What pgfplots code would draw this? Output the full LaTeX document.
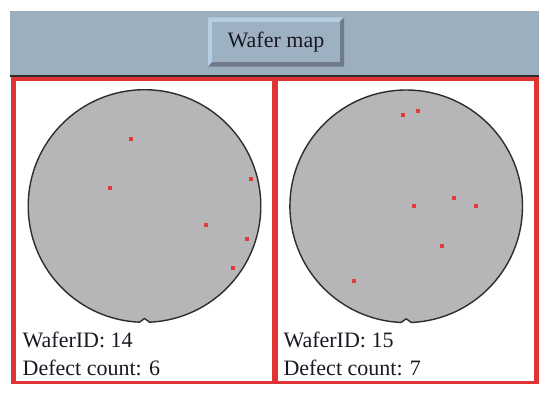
\documentclass[border=0pt]{standalone}
\usepackage{pgfplots}
\pgfplotsset{compat=1.18}
\usepackage{fontspec}
\setmainfont{Liberation Serif}
\definecolor{bandcol}{RGB}{156,175,190}
\definecolor{btnlight}{RGB}{182,206,228}
\definecolor{btndark}{RGB}{112,122,137}
\definecolor{btnface}{RGB}{157,177,194}
\definecolor{framered}{RGB}{222,52,52}
\definecolor{wafergray}{RGB}{182,182,185}
\definecolor{waferline}{RGB}{45,45,45}
\definecolor{dotred}{RGB}{224,58,58}
\definecolor{txt}{RGB}{25,25,35}

\pgfplotstableread{
x y
-13.5 67.3
-34.5 18.7
106.2 27.3
61.5 -18.7
101.8 -32.7
88.5 -61.3
}\waferA
\pgfplotstableread{
x y
-3.2 91.3
11.8 95.6
47.8 8.6
7.1 1.0
69.8 1.0
35.5 -39.4
-52.5 -74.4
}\waferB

\pgfplotsset{wafer/.style={
  scale only axis, width=232.6bp, height=232.6bp,
  xmin=-116.3, xmax=116.3, ymin=-116.3, ymax=116.3,
  axis lines=none, clip=false, anchor=center}}

\newcommand{\waferoutline}{%
  \filldraw[fill=wafergray, draw=waferline, line width=1.4bp]
    (axis cs:{116.3*cos(-87.5)},{116.3*sin(-87.5)})
    arc[start angle=-87.5, end angle=267.5, radius=116.3bp]
    -- (axis cs:0,-112.5) -- cycle;}

\begin{document}
\begin{tikzpicture}
\useasboundingbox (0,0) rectangle (550bp,396bp);
\fill[white] (0,0) rectangle (550bp,396bp);
% header band
\fill[bandcol] (10bp,319bp) rectangle (539bp,385bp);
\fill[waferline] (10bp,319bp) rectangle (539bp,320.8bp);
% button
\fill[btnlight] (208bp,329.3bp) -- (208bp,378.7bp) -- (344bp,378.7bp) -- (339.5bp,374.2bp) -- (212.2bp,374.2bp) -- (212.2bp,334bp) -- cycle;
\fill[btndark] (208bp,329.3bp) -- (344bp,329.3bp) -- (344bp,378.7bp) -- (339.5bp,374.2bp) -- (339.5bp,334bp) -- (212.2bp,334bp) -- cycle;
\fill[btnface] (212.2bp,334bp) rectangle (339.5bp,374.2bp);
\node[text=txt, inner sep=0pt] at (276bp,354bp) {\fontsize{22bp}{26bp}\selectfont Wafer map};
% red frame
\fill[framered] (11bp,315bp) rectangle (539bp,319bp);
\fill[framered] (11bp,12bp) rectangle (16bp,319bp);
\fill[framered] (272.3bp,12bp) rectangle (278bp,319bp);
\fill[framered] (534bp,12bp) rectangle (539bp,319bp);
\fill[framered] (11bp,12bp) rectangle (539bp,15bp);

% left wafer
\begin{axis}[wafer, at={(144.5bp,190bp)}]
\waferoutline
\addplot[only marks, mark=square*, mark size=1.5bp, color=dotred] table {\waferA};
\end{axis}
% right wafer
\begin{axis}[wafer, at={(406.2bp,189.7bp)}]
\waferoutline
\addplot[only marks, mark=square*, mark size=1.5bp, color=dotred] table {\waferB};
\end{axis}

% labels
\begin{scope}[every node/.style={anchor=base west, inner sep=0pt, text=txt, font=\fontsize{22bp}{26bp}\selectfont}]
\node at (22.5bp,48bp) {WaferID: 14};
\node at (22.5bp,20.3bp) {Defect count: 6};
\node at (283.3bp,48bp) {WaferID: 15};
\node at (283.3bp,20.3bp) {Defect count: 7};
\end{scope}
\end{tikzpicture}
\end{document}
